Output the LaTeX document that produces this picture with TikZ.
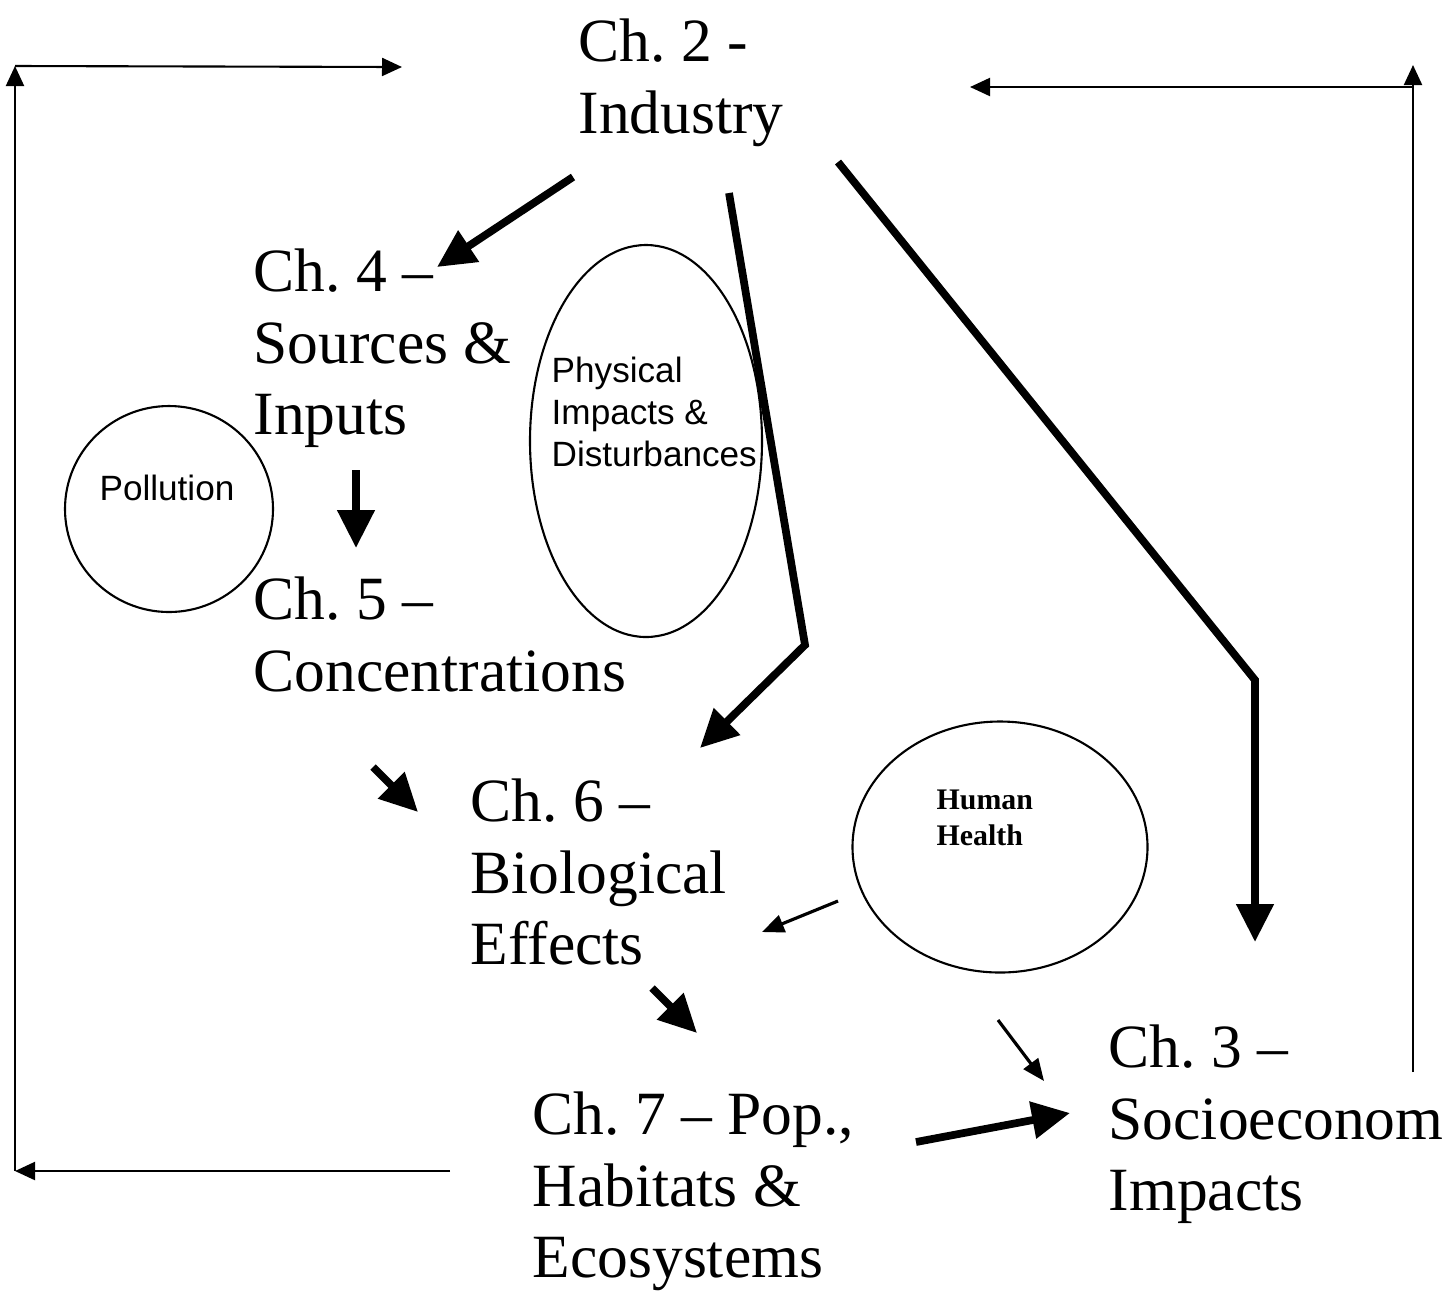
\documentclass[tikz,border=0pt]{standalone}
\usepackage{fontspec}
\setmainfont{Liberation Serif}
\setsansfont{Liberation Sans}
\usetikzlibrary{arrows.meta,shapes.geometric}
\frenchspacing

\begin{document}
\begin{tikzpicture}[x=0.1mm,y=-0.1mm,
  chap/.style={anchor=north west,align=left,inner sep=0pt,font=\fontsize{17.5}{20.4}\selectfont},
  blob/.style={draw,ellipse,line width=0.6pt,inner sep=0pt},
  blobtxt/.style={anchor=north west,align=left,inner sep=0pt,font=\sffamily\fontsize{10}{12}\selectfont},
  framearr/.style={line width=0.6pt,-{Triangle[length=2mm,width=1.8mm]}},
  fatarr/.style={line width=2.2pt,-{Triangle[length=3.8mm,width=3.6mm]}},
  midarr/.style={line width=0.9pt,-{Triangle[length=2.2mm,width=1.8mm]}}]
\useasboundingbox (0,0) rectangle (1451,1291);

% chapters
\node[chap] (ind) at (578,18) {Ch. 2 -\\Industry};
\node[chap] (src) at (253,248) {Ch. 4 –\\Sources \&\\Inputs};
\node[chap] (conc) at (253,576) {Ch. 5 –\\Concentrations};
\node[chap] (bio) at (470,778) {Ch. 6 –\\Biological\\Effects};
\node[chap] (pop) at (532,1091) {Ch. 7 – Pop.,\\Habitats \&\\Ecosystems};
\node[chap] (soc) at (1108,1024) {Ch. 3 –\\Socioeconom\\Impacts};

% ovals
\node[blob,minimum width=2.08cm,minimum height=2.06cm] (poll) at (169,509) {};
\node[blobtxt,anchor=center] (polltxt) at (167,488) {Pollution};
\node[blob,minimum width=2.32cm,minimum height=3.92cm] (phys) at (646,441) {};
\node[blobtxt] (phystxt) at (551,356) {Physical\\Impacts \&\\Disturbances};
\node[blob,minimum width=2.95cm,minimum height=2.51cm] (hum) at (1000,847) {};
\node[blobtxt,font=\bfseries\fontsize{8.5}{10.2}\selectfont] (humtxt) at (936,789) {Human\\Health};

% outer feedback loop
\coordinate (fbstart) at (450,1171);
\coordinate (fbl) at (15,1171);
\coordinate (ftl) at (15,66);
\coordinate (ftr) at (402,67);
\coordinate (rbot) at (1413,1072);
\coordinate (rtop) at (1413,65);
\coordinate (rjoin) at (1413,87);
\coordinate (rend) at (970,87);
\draw[framearr] (fbstart)--(fbl);
\draw[framearr] (fbl)--(ftl);
\draw[framearr] (ftl)--(ftr);
\draw[framearr] (rbot)--(rtop);
\draw[framearr] (rjoin)--(rend);

% main flow
\coordinate (i2s) at (573,177);
\coordinate (s_in) at (437,267);
\coordinate (i2b) at (729,193);
\coordinate (i2b_bend) at (805,645);
\coordinate (b_in) at (700,748);
\coordinate (i2c) at (838,162);
\coordinate (i2c_bend) at (1255,680);
\coordinate (c_in) at (1255,942);
\coordinate (s2c) at (356,470);
\coordinate (c5_in) at (356,548);
\coordinate (c2b) at (373,767);
\coordinate (b6_in) at (418,812);
\coordinate (b2p) at (652,988);
\coordinate (p_in) at (697,1033);
\coordinate (p2s) at (916,1142);
\coordinate (s3_in) at (1070,1113);
\draw[fatarr] (i2s)--(s_in);
\draw[fatarr,line join=miter] (i2b)--(i2b_bend)--(b_in);
\draw[fatarr,line join=miter] (i2c)--(i2c_bend)--(c_in);
\draw[fatarr] (s2c)--(c5_in);
\draw[fatarr] (c2b)--(b6_in);
\draw[fatarr] (b2p)--(p_in);
\draw[fatarr] (p2s)--(s3_in);

% human health links
\coordinate (h2b) at (838,901);
\coordinate (hb_in) at (762,932);
\coordinate (h2s) at (998,1020);
\coordinate (hs_in) at (1044,1081);
\draw[midarr] (h2b)--(hb_in);
\draw[midarr] (h2s)--(hs_in);
\end{tikzpicture}
\end{document}
